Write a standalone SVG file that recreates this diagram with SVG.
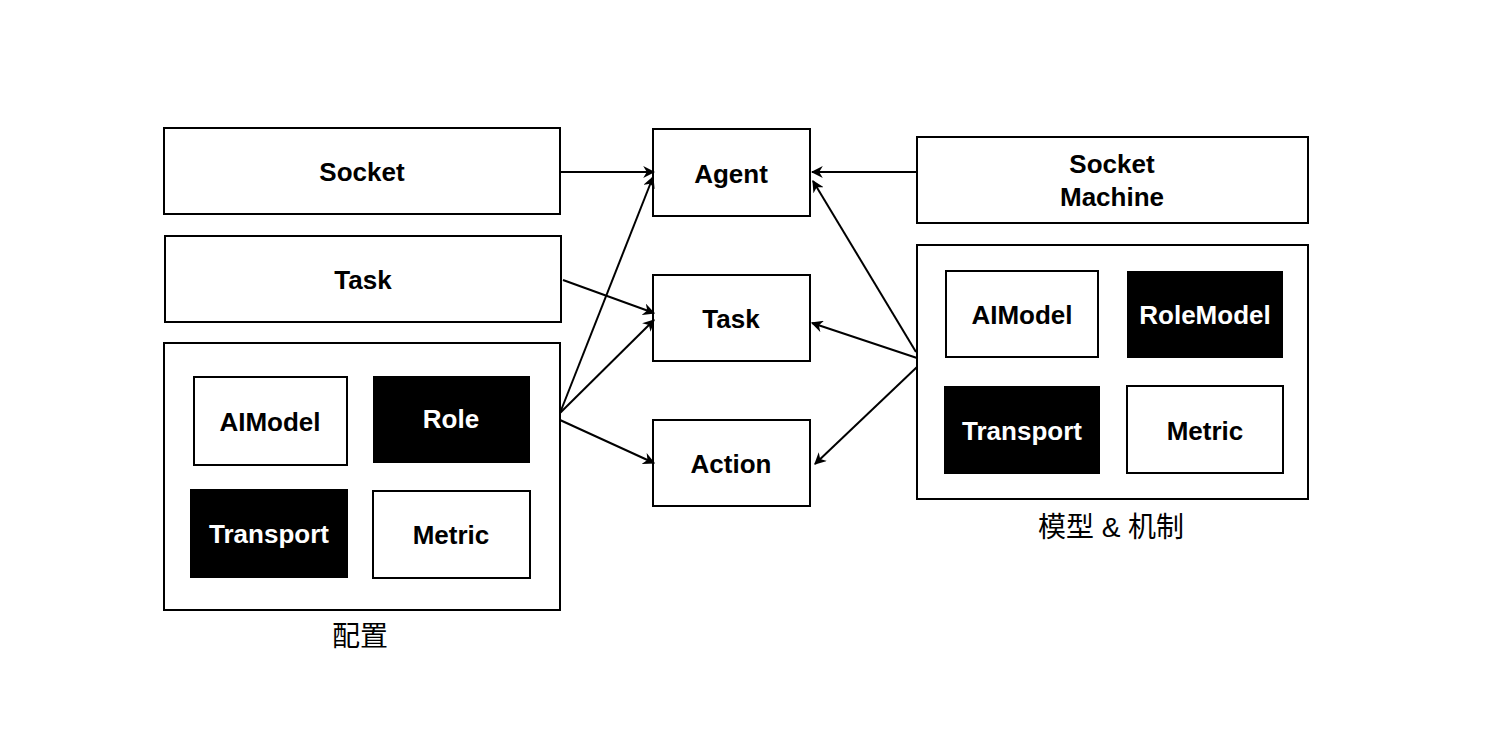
<svg xmlns="http://www.w3.org/2000/svg" width="1486" height="754" viewBox="0 0 1486 754">
<style>
.box{fill:#fff;stroke:#000;stroke-width:2}
.dark{fill:#000;stroke:#000;stroke-width:2}
.t{font-family:"Liberation Sans",Arial,sans-serif;font-weight:bold;font-size:26px;text-anchor:middle;dominant-baseline:central;fill:#000}
.w{fill:#fff}
.cap{font-family:"Liberation Sans","Noto Sans CJK SC",sans-serif;font-size:28px;text-anchor:middle;dominant-baseline:central;fill:#000}
.c{stroke:#000;stroke-width:2;fill:none;marker-end:url(#ah)}
</style>
<defs>
<marker id="ah" viewBox="0 0 10 10" refX="9" refY="5" markerWidth="6" markerHeight="6" orient="auto" markerUnits="strokeWidth">
<path d="M0,0 L10,5 L0,10 L3,5 Z" fill="#000"/>
</marker>
</defs>
<rect width="1486" height="754" fill="#fff"/>
<g id="socket-left"><rect class="box" x="164" y="128" width="396" height="86"/><text class="t" x="362" y="172">Socket</text></g>
<g id="task-left"><rect class="box" x="165" y="236" width="396" height="86"/><text class="t" x="363" y="280">Task</text></g>
<g id="config"><rect class="box" x="164" y="343" width="396" height="267"/>
<rect class="box" x="194" y="377" width="153" height="88"/><text class="t" x="270" y="422">AIModel</text>
<rect class="dark" x="374" y="377" width="155" height="85"/><text class="t w" x="451" y="419">Role</text>
<rect class="dark" x="191" y="490" width="156" height="87"/><text class="t w" x="269" y="534">Transport</text>
<rect class="box" x="373" y="491" width="157" height="87"/><text class="t" x="451" y="535">Metric</text>
<text class="cap" x="360" y="636">配置</text></g>
<g id="agent"><rect class="box" x="653" y="129" width="157" height="87"/><text class="t" x="731" y="174">Agent</text></g>
<g id="task-mid"><rect class="box" x="653" y="275" width="157" height="86"/><text class="t" x="731" y="319">Task</text></g>
<g id="action"><rect class="box" x="653" y="420" width="157" height="86"/><text class="t" x="731" y="464">Action</text></g>
<g id="socket-machine"><rect class="box" x="917" y="137" width="391" height="86"/><text class="t" x="1112" y="164">Socket</text><text class="t" x="1112" y="197">Machine</text></g>
<g id="model"><rect class="box" x="917" y="245" width="391" height="254"/>
<rect class="box" x="946" y="271" width="152" height="86"/><text class="t" x="1022" y="315">AIModel</text>
<rect class="dark" x="1128" y="272" width="154" height="85"/><text class="t w" x="1205" y="315">RoleModel</text>
<rect class="dark" x="945" y="387" width="154" height="86"/><text class="t w" x="1022" y="431">Transport</text>
<rect class="box" x="1127" y="386" width="156" height="87"/><text class="t" x="1205" y="431">Metric</text>
<text class="cap" x="1111" y="527">模型 &amp; 机制</text></g>
<g id="connectors">
<path class="c" d="M560,172 L654,172"/>
<path class="c" d="M563,280 L654,313"/>
<path class="c" d="M560,413 L653,177"/>
<path class="c" d="M560,413 L654,320"/>
<path class="c" d="M560,420 L654,463"/>
<path class="c" d="M917,172 L812,172"/>
<path class="c" d="M916,352 L813,181"/>
<path class="c" d="M917,358 L812,323"/>
<path class="c" d="M917,367 L815,464"/>
</g>
</svg>
